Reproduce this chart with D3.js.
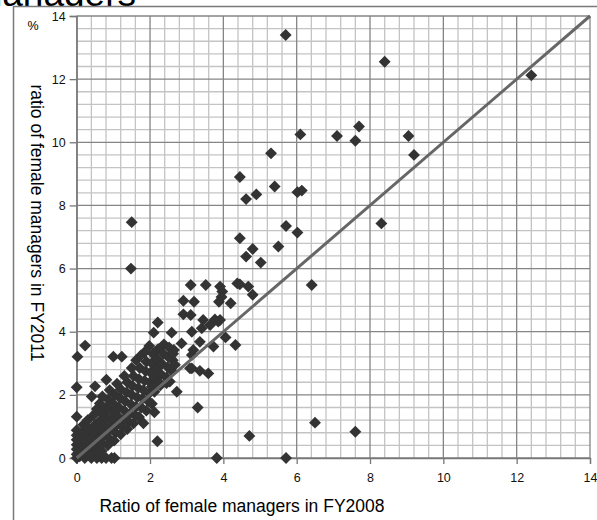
<!DOCTYPE html>
<html>
<head>
<meta charset="utf-8">
<script src="https://cdnjs.cloudflare.com/ajax/libs/d3/7.8.5/d3.min.js"></script>
<style>
  html, body { margin: 0; padding: 0; background: #fff; }
  svg { display: block; }
  text { font-family: "Liberation Sans", Arial, sans-serif; }
</style>
</head>
<body>
<svg id="chart" width="597" height="520"></svg>
<script>
// Ratio of female managers (%) per company: [FY2008, FY2011]
const highRatios = [
  [5.7, 13.4], [8.4, 12.55], [12.4, 12.12], [6.1, 10.25], [7.1, 10.2], [7.7, 10.5],
  [7.6, 10.05], [9.05, 10.2], [9.2, 9.6], [5.3, 9.65], [4.45, 8.9], [5.4, 8.6],
  [4.9, 8.35], [4.62, 8.2], [6.02, 8.42], [6.14, 8.47], [8.31, 7.43], [5.71, 7.35],
  [6.02, 7.14], [4.45, 6.96], [5.5, 6.7], [4.8, 6.62], [4.62, 6.38], [5.02, 6.19],
  [1.5, 7.47], [1.48, 6.0], [6.41, 5.48], [6.5, 1.12], [7.6, 0.83], [5.71, 0],
  [3.82, 0], [4.71, 0.7]
];

const midRatios = [
  [3.11, 5.48], [3.52, 5.48], [3.91, 5.43], [4.38, 5.53], [4.68, 5.43], [4.8, 5.17],
  [4.45, 5.5], [3.97, 5.27], [3.95, 5.1], [2.91, 4.98], [3.2, 4.95], [3.88, 4.95],
  [4.2, 4.9], [2.91, 4.55], [3.11, 4.53], [2.21, 4.29], [2.1, 3.97], [2.59, 3.97],
  [3.14, 4.0], [3.41, 4.11], [3.64, 4.21], [3.86, 4.32], [3.77, 4.39], [3.45, 4.37],
  [3.91, 4.37], [4.06, 3.82], [4.33, 3.58], [3.36, 3.68], [3.73, 3.53], [3.14, 3.26],
  [2.86, 3.63], [2.63, 3.3], [3.18, 3.42], [2.68, 2.95], [3.14, 2.84], [3.36, 2.76],
  [3.59, 2.68], [3.09, 2.84], [2.73, 2.1], [2.45, 2.37], [2.54, 2.42], [2.27, 2.37],
  [2.05, 2.26], [2.12, 1.45], [1.82, 1.1], [2.2, 0.53], [3.3, 1.6]
];

const lowRatios = [
  [0, 1.31], [0, 2.24], [0.02, 3.21], [0.23, 3.56], [0.5, 2.27], [0.41, 1.95],
  [0.63, 1.73], [0.81, 2.48], [1.0, 3.21], [1.23, 3.21], [0.68, 0], [0.8, 0],
  [0.95, 0], [1.03, 0],
  [0, 0], [0, 0.12], [0, 0.28], [0, 0.42], [0, 0.58], [0, 0.72], [0, 0.88],
  [0.08, 0.05], [0.1, 0.22], [0.08, 0.5], [0.12, 0.66], [0.15, 0.82], [0.18, 0.36],
  [0.22, 0], [0.25, 0.18], [0.28, 0.48], [0.3, 0.7], [0.33, 0.92], [0.36, 0.3],
  [0.4, 0], [0.42, 0.12], [0.45, 0.55], [0.48, 0.78], [0.5, 1.05], [0.52, 0.38],
  [0.55, 0], [0.58, 0.2], [0.6, 0.62], [0.62, 0.88], [0.65, 1.2], [0.66, 1.45],
  [0.7, 0.45], [0.74, 0.72], [0.78, 1.02], [0.8, 1.3], [0.82, 1.6], [0.86, 1.85],
  [0.88, 0.62], [0.92, 0.9], [0.95, 1.18], [0.98, 1.45], [1.0, 1.72], [1.04, 2.0],
  [1.06, 0.8], [1.1, 1.05], [1.12, 1.32], [1.15, 1.6], [1.18, 1.9], [1.2, 2.18],
  [1.25, 0.98], [1.28, 1.22], [1.3, 1.5], [1.32, 1.8], [1.36, 2.08], [1.38, 2.4],
  [1.42, 1.15], [1.45, 1.4], [1.48, 1.7], [1.5, 2.0], [1.52, 2.28], [1.55, 2.6],
  [1.6, 1.35], [1.62, 1.62], [1.65, 1.92], [1.68, 2.22], [1.7, 2.5], [1.72, 2.85],
  [1.76, 1.6], [1.8, 1.88], [1.82, 2.15], [1.85, 2.45], [1.88, 2.75], [1.9, 3.05],
  [1.85, 3.35], [1.95, 1.8], [1.98, 2.05], [2.0, 2.4], [2.02, 2.7], [2.05, 3.0],
  [2.08, 3.3], [2.12, 2.1], [2.15, 2.5], [2.18, 2.82], [2.2, 3.12], [2.22, 3.45],
  [2.28, 2.3], [2.3, 2.65], [2.33, 2.98], [2.36, 3.3], [2.38, 3.6], [2.45, 2.55],
  [2.48, 2.88], [2.5, 3.2], [2.52, 3.5], [2.6, 2.75], [2.62, 3.1], [2.65, 3.42],
  [0.18, 1.05], [0.3, 1.2], [0.45, 1.35], [0.55, 1.55], [0.7, 1.95], [0.9, 2.15],
  [1.1, 2.35], [1.3, 2.6], [1.5, 2.85], [1.62, 3.1], [1.75, 3.25], [1.98, 3.55],
  [0.2, 0.6], [0.38, 0.62], [0.35, 0.08], [0.68, 0.22], [0.85, 0.4], [1.02, 0.55],
  [1.2, 0.75], [1.38, 0.92], [1.55, 1.1], [1.7, 1.3], [1.9, 1.5], [2.05, 1.72]
];

const majorTicks = [0, 2, 4, 6, 8, 10, 12, 14];
const minorStep = 0.4;
const axisMax = 14;

const titleText = "Ratio of female managers";
const xTitle = "Ratio of female managers in FY2008";
const yTitle = "ratio of female managers in FY2011";
const unitLabel = "%";

const svg = d3.select("#chart");

// Title, partly covered by the chart frame
svg.append("text")
  .attr("x", 136).attr("y", 6)
  .attr("text-anchor", "end")
  .attr("font-size", 37)
  .attr("fill", "#000")
  .text(titleText);

// Chart frame
svg.append("rect")
  .attr("x", 13.5).attr("y", 6.5)
  .attr("width", 700).attr("height", 700)
  .attr("fill", "#fff")
  .attr("stroke", "#7a7a7a")
  .attr("stroke-width", 1.5);

const x = d3.scaleLinear().domain([0, axisMax]).range([76.7, 590]);
const y = d3.scaleLinear().domain([0, axisMax]).range([458, 16]);

// Grid
const minorValues = d3.range(0, axisMax + 1e-6, minorStep)
  .filter(v => !majorTicks.some(m => Math.abs(m - v) < 1e-6));
const grid = svg.append("g");
grid.selectAll("line.vminor").data(minorValues).join("line")
  .attr("x1", d => x(d)).attr("x2", d => x(d))
  .attr("y1", y(0)).attr("y2", y(axisMax))
  .attr("stroke", "#c4c4c4").attr("stroke-width", 1.3);
grid.selectAll("line.hminor").data(minorValues).join("line")
  .attr("y1", d => y(d)).attr("y2", d => y(d))
  .attr("x1", x(0)).attr("x2", x(axisMax))
  .attr("stroke", "#c4c4c4").attr("stroke-width", 1.3);
grid.selectAll("line.vmajor").data(majorTicks).join("line")
  .attr("x1", d => x(d)).attr("x2", d => x(d))
  .attr("y1", y(0)).attr("y2", y(axisMax))
  .attr("stroke", "#858585").attr("stroke-width", 1.3);
grid.selectAll("line.hmajor").data(majorTicks).join("line")
  .attr("y1", d => y(d)).attr("y2", d => y(d))
  .attr("x1", x(0)).attr("x2", x(axisMax))
  .attr("stroke", "#858585").attr("stroke-width", 1.3);

// Axes
const xAxis = svg.append("g")
  .attr("transform", `translate(0,${y(0)})`)
  .call(d3.axisBottom(x).tickValues(majorTicks).tickSize(6).tickPadding(9).tickFormat(d3.format("d")));
const yAxis = svg.append("g")
  .attr("transform", `translate(${x(0)},0)`)
  .call(d3.axisLeft(y).tickValues(majorTicks).tickSize(7).tickPadding(4).tickFormat(d3.format("d")));
[xAxis, yAxis].forEach(g => {
  g.select(".domain").attr("stroke", "#777").attr("stroke-width", 1.3);
  g.selectAll(".tick line").attr("stroke", "#777").attr("stroke-width", 1.3);
  g.selectAll(".tick text")
    .attr("font-size", 12.5)
    .attr("font-family", "'Liberation Sans', Arial, sans-serif")
    .attr("fill", "#111");
});

// Points
const allRatios = lowRatios.concat(midRatios, highRatios);
const diamond = d3.symbol().type(d3.symbolDiamond2).size(90);
svg.append("g").selectAll("path").data(allRatios).join("path")
  .attr("transform", d => `translate(${x(d[0])},${y(d[1])})`)
  .attr("d", diamond)
  .attr("fill", "#333");

// Reference line y = x
svg.append("line")
  .attr("x1", x(0)).attr("y1", y(0))
  .attr("x2", x(axisMax)).attr("y2", y(axisMax))
  .attr("stroke", "#666").attr("stroke-width", 3);

// Labels
svg.append("text")
  .attr("x", 33).attr("y", 30)
  .attr("text-anchor", "middle")
  .attr("font-size", 12.5)
  .text(unitLabel);

svg.append("text")
  .attr("x", 242).attr("y", 512)
  .attr("text-anchor", "middle")
  .attr("font-size", 17.5)
  .text(xTitle);

svg.append("text")
  .attr("transform", "translate(31,223) rotate(90)")
  .attr("text-anchor", "middle")
  .attr("font-size", 17.5)
  .text(yTitle);
</script>
</body>
</html>
